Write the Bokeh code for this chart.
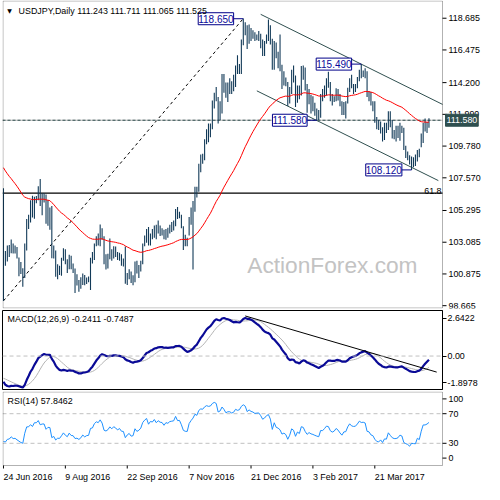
import numpy as np
from bokeh.plotting import figure
from bokeh.layouts import column
from bokeh.models import (Range1d, FixedTicker, Label, Span, BoxAnnotation)
from bokeh.embed import file_html
from bokeh.resources import INLINE
from bokeh.core.properties import value

# ---------------- data (daily USDJPY bars, 24 Jun 2016 .. 28 Apr 2017) ----------------
SYMBOL = "USDJPY,Daily"
LAST_OHLC = [111.243, 111.711, 111.065, 111.525]

HIGHS = [
    106.84,
    102.48, 102.85, 102.90, 103.27, 103.00,
    102.85, 102.75, 102.02, 101.70, 101.27,
    103.00, 104.70, 105.00, 106.00, 106.32,
    106.25, 106.30, 106.99, 107.49, 106.50,
    106.50, 106.40, 106.00, 105.50, 105.60,
    102.85, 102.50, 101.55, 101.45, 102.00,
    102.67, 102.60, 101.90, 102.22, 102.15,
    101.60, 101.25, 100.85, 100.45, 100.65,
    100.90, 100.80, 100.63, 100.70, 102.00,
    102.40, 103.00, 103.50, 103.70, 104.32,
    104.05, 103.50, 102.25, 102.28, 103.35,
    102.60, 102.80, 102.78, 102.40, 102.35,
    102.25, 101.95, 102.79, 100.95, 101.20,
    101.05, 100.78, 101.75, 101.80, 101.50,
    101.80, 103.00, 103.55, 104.00, 104.15,
    103.70, 104.00, 104.25, 104.30, 104.60,
    104.25, 104.05, 103.95, 104.00, 104.10,
    104.30, 104.50, 104.60, 105.40, 105.53,
    105.20, 105.00, 104.20, 103.60, 103.40,
    104.85, 105.50, 105.96, 106.95, 106.95,
    108.55, 109.20, 109.25, 110.25, 110.95,
    111.35, 111.35, 112.95, 113.50, 113.90,
    113.20, 112.90, 114.80, 114.80, 114.20,
    114.20, 114.50, 114.30, 114.75, 115.40,
    116.10, 115.50, 117.20, 118.66, 118.40,
    118.20, 118.25, 118.00, 117.85, 117.70,
    117.55, 117.80, 117.60, 117.20, 117.10,
    117.55, 118.60, 118.20, 117.25, 117.10,
    117.00, 116.35, 117.55, 115.45, 115.00,
    114.55, 114.25, 113.90, 115.10, 115.40,
    114.70, 114.00, 114.00, 115.35, 115.40,
    115.25, 114.10, 113.75, 113.35, 113.25,
    112.80, 112.40, 112.30, 113.40, 113.75,
    114.00, 114.50, 114.95, 114.25, 113.40,
    113.25, 113.80, 113.75, 113.40, 112.90,
    112.85, 112.90, 113.85, 114.50, 114.75,
    114.10, 114.10, 114.60, 115.10, 115.49,
    115.05, 115.20, 115.00, 113.60, 113.55,
    112.90, 112.90, 111.80, 111.60, 111.50,
    111.10, 111.40, 111.40, 112.20, 112.20,
    111.60, 110.90, 111.20, 111.20, 111.40,
    111.20, 111.05, 109.80, 109.40, 109.15,
    109.05, 109.00, 109.20, 109.50, 109.60,
    110.65, 111.40, 111.70, 111.45, 111.711,
]
LOWS = [
    99.00,
    101.45, 101.75, 102.05, 102.31, 102.30,
    102.30, 101.95, 100.72, 100.87, 99.98,
    100.60, 102.50, 104.00, 104.45, 104.80,
    104.72, 105.80, 106.00, 105.60, 104.97,
    105.85, 104.37, 104.23, 103.95, 101.97,
    101.95, 100.68, 100.50, 100.80, 100.75,
    101.80, 101.55, 100.95, 101.20, 101.20,
    100.95, 99.55, 100.07, 99.64, 99.85,
    100.10, 100.08, 100.18, 100.30, 99.75,
    101.60, 101.85, 102.80, 102.85, 102.80,
    103.25, 101.55, 101.18, 101.25, 101.90,
    101.80, 101.95, 102.05, 101.85, 101.80,
    101.45, 101.40, 100.20, 100.10, 100.50,
    100.25, 100.09, 100.30, 100.90, 100.60,
    101.05, 101.55, 102.80, 103.05, 102.85,
    102.85, 103.30, 103.40, 103.30, 103.70,
    103.52, 103.55, 103.30, 103.25, 103.40,
    103.70, 103.80, 103.90, 104.20, 104.70,
    104.75, 104.05, 102.55, 102.80, 102.80,
    103.55, 104.30, 101.19, 105.20, 106.20,
    106.60, 107.95, 108.55, 108.80, 109.90,
    110.05, 110.40, 110.95, 112.40, 112.90,
    111.35, 111.60, 112.05, 113.50, 113.15,
    112.85, 113.40, 113.40, 113.60, 113.90,
    114.80, 114.80, 114.80, 116.80, 117.50,
    116.55, 116.90, 117.10, 117.25, 117.10,
    117.15, 117.10, 116.60, 116.05, 116.05,
    116.90, 117.10, 116.85, 115.10, 115.10,
    115.90, 115.20, 115.00, 113.75, 114.00,
    113.95, 112.57, 112.75, 113.40, 114.20,
    112.50, 112.80, 113.05, 113.30, 114.40,
    113.65, 112.10, 112.70, 112.05, 112.20,
    111.90, 111.58, 111.60, 111.75, 112.90,
    113.15, 113.30, 113.85, 112.90, 112.60,
    112.85, 112.90, 112.95, 112.55, 111.95,
    111.95, 111.70, 112.75, 113.55, 113.80,
    113.40, 113.55, 113.80, 114.30, 114.50,
    114.60, 114.50, 113.20, 112.90, 112.60,
    112.20, 111.40, 110.95, 110.90, 110.65,
    110.10, 110.20, 110.70, 110.90, 111.10,
    110.30, 110.25, 110.10, 110.35, 110.15,
    110.70, 109.50, 108.95, 108.80, 108.50,
    108.12, 108.30, 108.40, 108.70, 109.00,
    109.70, 110.00, 110.80, 110.70, 111.065,
]
CLOSES = [
    102.22,
    101.92, 102.61, 102.70, 103.25, 102.52,
    102.58, 101.99, 101.44, 100.87, 100.54,
    102.75, 104.67, 104.70, 105.40, 104.90,
    106.15, 106.15, 106.90, 105.87, 106.10,
    106.12, 104.78, 105.30, 105.25, 102.05,
    102.35, 100.85, 101.28, 101.22, 101.82,
    102.52, 101.75, 101.25, 102.08, 101.30,
    101.25, 100.28, 100.35, 99.92, 100.22,
    100.75, 100.22, 100.45, 100.50, 101.85,
    101.95, 102.93, 103.42, 103.27, 103.99,
    103.42, 101.92, 101.72, 102.00, 102.60,
    102.20, 102.64, 102.40, 102.00, 102.28,
    101.75, 101.70, 100.30, 100.75, 101.00,
    100.38, 100.45, 101.64, 101.10, 101.30,
    101.70, 102.90, 103.50, 103.95, 102.95,
    103.65, 103.55, 104.20, 103.65, 104.15,
    103.90, 103.85, 103.40, 103.95, 103.85,
    104.20, 104.28, 104.35, 105.30, 104.75,
    104.80, 104.20, 103.30, 103.12, 103.10,
    104.45, 105.10, 105.70, 106.80, 106.65,
    108.40, 109.10, 109.05, 110.20, 110.90,
    110.80, 111.00, 112.50, 113.35, 113.20,
    111.95, 112.40, 114.50, 114.10, 113.50,
    113.95, 113.95, 113.75, 114.05, 115.30,
    115.15, 115.40, 117.10, 118.10, 117.90,
    117.05, 117.85, 117.60, 117.50, 117.30,
    117.40, 117.45, 117.10, 116.60, 116.90,
    117.50, 117.80, 117.20, 115.40, 117.00,
    116.00, 115.80, 115.40, 114.30, 114.50,
    114.10, 112.70, 113.50, 115.00, 114.60,
    112.70, 113.80, 113.30, 115.30, 115.10,
    113.80, 112.75, 113.25, 112.80, 112.60,
    112.30, 112.05, 111.85, 113.25, 113.20,
    113.70, 114.30, 114.20, 113.25, 112.90,
    113.10, 113.65, 113.30, 112.65, 112.10,
    112.70, 112.75, 113.70, 114.40, 114.00,
    113.90, 113.95, 114.40, 115.00, 114.80,
    114.85, 114.75, 113.40, 113.30, 112.70,
    112.55, 111.75, 111.20, 111.05, 111.30,
    110.65, 111.10, 111.05, 111.90, 111.40,
    110.90, 110.70, 110.70, 110.80, 111.10,
    110.95, 109.60, 109.30, 109.10, 108.60,
    108.90, 108.85, 108.80, 109.35, 109.10,
    110.10, 111.10, 111.10, 111.25, 111.525,
]

DATE_TICK_INDEX = [0, 32, 64, 96, 128, 160, 192]
DATE_TICK_LABELS = ["24 Jun 2016", "9 Aug 2016", "22 Sep 2016", "7 Nov 2016",
                    "21 Dec 2016", "3 Feb 2017", "21 Mar 2017"]
PRICE_TICKS = [118.685, 116.475, 114.200, 111.990, 109.780, 107.570,
               105.295, 103.085, 100.875, 98.665]
MACD_LABELS = ["2.6422", "0.00", "-1.8978"]
MACD_LABEL_AT = [2.426, 0.0, -1.713]
RSI_LABELS = ["100", "70", "30", "0"]
RSI_LABEL_AT = [90, 70, 30, 10]
RSI_LEVELS = [70, 30]
MACD_TITLE_VALUES = ["-0.2411", "-0.7487"]
RSI_TITLE_VALUE = "57.8462"

# swing-point annotations
PIVOT_INDEX = [124, 185, 162, 211]
PIVOT_PRICE = [118.650, 115.490, 111.580, 108.120]
HLINE_PRICE = 111.580
FIB_LEVEL = 0.618
# drawn trend lines (bar index, value)
CHANNEL_UPPER = ([133, 227], [118.955, 112.684])
CHANNEL_LOWER = ([131, 224.85], [113.628, 107.377])
MACD_TREND = ([125, 224], [2.57, -1.03])

EMA55_SEED = 108.5
EMA12_SEED = 106.6
EMA26_SEED = 108.0
SIGNAL_SEED = -1.4
PREV_CLOSE = 106.1
RSI_SEED_GAIN = 0.35
RSI_SEED_LOSS = 0.43

assert len(HIGHS) == len(LOWS) == len(CLOSES) == 221

# ---------------- indicators ----------------
closes = np.array(CLOSES, dtype=float)
idx = np.arange(len(closes))


def ema(vals, period, seed):
    a = 2.0 / (period + 1)
    out, prev = [], seed
    for v in vals:
        prev = prev + a * (v - prev)
        out.append(prev)
    return np.array(out)


ema55 = ema(closes, 55, EMA55_SEED)
macd = ema(closes, 12, EMA12_SEED) - ema(closes, 26, EMA26_SEED)
hist = [SIGNAL_SEED] * 8 + list(macd)
signal = np.array([np.mean(hist[i:i + 9]) for i in range(len(macd))])

rsi = []
g, l, prev = RSI_SEED_GAIN, RSI_SEED_LOSS, PREV_CLOSE
for c in closes:
    d = c - prev
    prev = c
    g = (g * 13 + max(d, 0)) / 14
    l = (l * 13 + max(-d, 0)) / 14
    rsi.append(100 * g / (g + l))
rsi = np.array(rsi)

# ---------------- layout constants ----------------
FONT = "Liberation Sans"
SMALL = "8.9px"
BAR_COLOR = "#123a58"
NAVY = "#000088"
GRID_GRAY = "#c0c0c0"

X0, X1 = -0.5, 227.0          # plotted bar span (left / right frame edge)
PANEL_W = 440                 # px of the bar area
UPX = (X1 - X0) / PANEL_W     # bar units per pixel
RIGHT_PX = 42                 # px of the value-scale column

common = dict(output_backend="svg", toolbar_location=None, min_border_left=2,
              background_fill_color="white", border_fill_color="white")


def value_scale(fig, ticks, labels):
    """tick marks + labels in the column right of the bar area"""
    k = len(ticks)
    fig.segment(x0=[X1] * k, y0=ticks, x1=[X1 + 4 * UPX] * k, y1=ticks,
                line_color="black", line_width=1)
    fig.text(x=[X1 + 6 * UPX] * k, y=ticks, text=labels, text_align="left",
             text_baseline="middle", text_font=value(FONT),
             text_font_size=value(SMALL), text_color="black")


# ---------------- main price panel ----------------
PH = 308
p_y0, p_y1 = 98.469, 119.919
upy = (p_y1 - p_y0) / PH
p = figure(frame_width=PANEL_W + RIGHT_PX, frame_height=PH,
           x_range=Range1d(X0, X1 + RIGHT_PX * UPX), y_range=Range1d(p_y0, p_y1),
           x_axis_location=None, y_axis_location=None, min_border_right=0,
           min_border_top=0, min_border_bottom=2, outline_line_color=None, **common)
p.grid.visible = False

p.add_layout(Label(x=244.8, y=30.5, x_units="screen", y_units="screen",
                   text="ActionForex.com", text_font=FONT, text_font_size="22.7px",
                   text_color="#c3c3c3", level="underlay"))

# fibonacci: from Brexit low to December high
lo_i, hi_i = 0, int(np.argmax(HIGHS))
fib_low, fib_high = LOWS[lo_i], HIGHS[hi_i]
fib_price = fib_high - FIB_LEVEL * (fib_high - fib_low)
p.line([lo_i, hi_i], [fib_low, fib_high], line_color="black", line_width=1, line_dash="3 3")
p.segment(x0=[X0], y0=[fib_price], x1=[X1], y1=[fib_price], line_color="black", line_width=1.3)
p.add_layout(Label(x=226.5, y=fib_price, y_offset=2.5, text="61.8", text_align="right",
                   text_baseline="alphabetic", text_font=FONT, text_font_size=SMALL,
                   text_color="black"))

# horizontal level
p.segment(x0=[X0], y0=[HLINE_PRICE], x1=[X1], y1=[HLINE_PRICE], line_color="#b8b8b8", line_width=1)
p.segment(x0=[X0], y0=[HLINE_PRICE], x1=[X1], y1=[HLINE_PRICE], line_color="#2f4f4f",
          line_width=1, line_dash="3 2")

# channel
p.line(CHANNEL_UPPER[0], CHANNEL_UPPER[1], line_color="#2f4f4f", line_width=1)
p.line(CHANNEL_LOWER[0], CHANNEL_LOWER[1], line_color="#2f4f4f", line_width=1)

p.segment(x0=idx, y0=LOWS, x1=idx, y1=HIGHS, line_color=BAR_COLOR, line_width=1.1)
p.line(idx, ema55, line_color="red", line_width=1)

# pivot labels
for pi, pp in zip(PIVOT_INDEX, PIVOT_PRICE):
    p.segment(x0=[pi - 5], y0=[pp], x1=[pi], y1=[pp], line_color=NAVY, line_width=1)
    p.add_layout(Label(x=pi - 5, y=pp, text=f"{pp:.3f}", text_align="right",
                       text_baseline="middle", text_font=FONT, text_font_size="10px",
                       text_color="#0a0a9a", background_fill_color="white",
                       border_line_color=NAVY, border_line_width=1, padding=(0, 2)))

# frame border of the bar area
p.add_layout(BoxAnnotation(left=X0 + 0.5 * UPX, right=X1, bottom=p_y0 + 0.5 * upy,
                           top=p_y1 - 0.5 * upy, fill_color=None, line_color="black",
                           line_width=1))

value_scale(p, PRICE_TICKS, [f"{t:.3f}" for t in PRICE_TICKS])

# price box on the scale
p.add_layout(Label(x=X1, x_offset=3, y=HLINE_PRICE, text=f"{HLINE_PRICE:.3f}",
                   text_align="left", text_baseline="middle", text_font=FONT,
                   text_font_size=SMALL, text_color="white",
                   background_fill_color="#2f4f4f", border_line_color="#2f4f4f",
                   padding=(1, 3)))

title = SYMBOL + " " + " ".join(f"{v:.3f}" for v in LAST_OHLC)
p.add_layout(Label(x=4.8, y=297.6, x_units="screen", y_units="screen", text="\u25bc",
                   text_baseline="middle", text_font="DejaVu Sans", text_font_size="6px",
                   text_color="black"))
p.add_layout(Label(x=16.1, y=297.4, x_units="screen", y_units="screen", text=title,
                   text_baseline="middle", text_font=FONT, text_font_size=SMALL,
                   text_color="black"))

# ---------------- MACD panel ----------------
m = figure(frame_width=PANEL_W, frame_height=79, x_range=Range1d(X0, X1),
           y_range=Range1d(-2.145, 2.92), x_axis_location=None, y_axis_location="right",
           min_border_right=RIGHT_PX, min_border_top=0, min_border_bottom=2,
           outline_line_color="black", **common)
m.grid.visible = False
ax = m.yaxis[0]
ax.ticker = FixedTicker(ticks=MACD_LABEL_AT)
ax.major_label_overrides = dict(zip(MACD_LABEL_AT, MACD_LABELS))
ax.major_tick_out = 4
ax.major_tick_in = 0
ax.minor_tick_out = 0
ax.minor_tick_in = 0
ax.major_label_standoff = 1
ax.major_label_text_font = FONT
ax.major_label_text_font_size = SMALL
ax.major_label_text_color = "black"
ax.axis_line_color = "black"
m.add_layout(Span(location=0, dimension="width", line_color=GRID_GRAY, line_width=1,
                  line_dash="4 3"))
m.line(idx, signal, line_color="#b4b4b4", line_width=1)
m.line(idx, macd, line_color="#0a0a96", line_width=2.2)
m.line(MACD_TREND[0], MACD_TREND[1], line_color="black", line_width=1)
m.add_layout(Label(x=5.1, y=70.3, x_units="screen", y_units="screen",
                   text="MACD(12,26,9) " + " ".join(MACD_TITLE_VALUES),
                   text_baseline="middle", text_font=FONT, text_font_size=SMALL,
                   text_color="black"))

# ---------------- RSI panel (with date scale) ----------------
RH, RB = 74, 19
upr = 100.0 / RH
r_y0 = -RB * upr
r = figure(frame_width=PANEL_W + RIGHT_PX, frame_height=RH + RB,
           x_range=Range1d(X0, X1 + RIGHT_PX * UPX), y_range=Range1d(r_y0, 100),
           x_axis_location=None, y_axis_location=None,
           min_border_right=0, min_border_top=0, min_border_bottom=0,
           outline_line_color=None, **common)
r.grid.visible = False
for lv in RSI_LEVELS:
    r.segment(x0=[X0], y0=[lv], x1=[X1], y1=[lv], line_color=GRID_GRAY, line_width=1,
              line_dash="4 3")
r.line(idx, rsi, line_color="#1e90ff", line_width=1)
r.add_layout(BoxAnnotation(left=X0 + 0.5 * UPX, right=X1, bottom=0, top=100 - 0.5 * upr,
                           fill_color=None, line_color="black", line_width=1))
value_scale(r, RSI_LABEL_AT, RSI_LABELS)
r.add_layout(Label(x=5.1, y=RB + 64.3, x_units="screen", y_units="screen",
                   text="RSI(14) " + RSI_TITLE_VALUE,
                   text_baseline="middle", text_font=FONT, text_font_size=SMALL,
                   text_color="black"))
nd = len(DATE_TICK_INDEX)
r.segment(x0=DATE_TICK_INDEX, y0=[0] * nd, x1=DATE_TICK_INDEX, y1=[-3 * upr] * nd,
          line_color="black", line_width=1)
r.text(x=DATE_TICK_INDEX, y=[-11 * upr] * nd, text=DATE_TICK_LABELS, text_align="left",
       text_baseline="alphabetic", text_font=value(FONT), text_font_size=value(SMALL),
       text_color="black")

layout = column(p, m, r, spacing=0)
open("out.html", "w").write(file_html(layout, INLINE))
